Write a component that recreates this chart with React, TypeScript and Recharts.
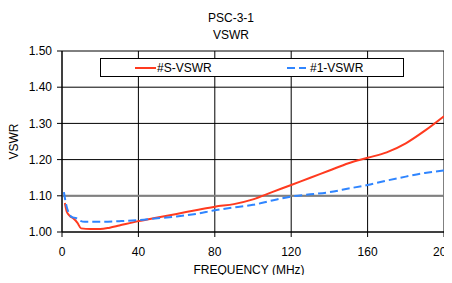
import React from 'react';
import {
  LineChart,
  Line,
  XAxis,
  YAxis,
  CartesianGrid,
  ReferenceLine,
} from 'recharts';

// #S-VSWR curve
const sFreq = [1.5, 2.5, 4, 6, 8, 10, 15, 20, 25, 30, 40, 50, 60, 70, 80, 90, 100, 110, 120, 130, 140, 150, 160, 170, 180, 190, 200];
const sVswr = [1.08, 1.056, 1.045, 1.037, 1.026, 1.01, 1.008, 1.008, 1.012, 1.018, 1.03, 1.04, 1.05, 1.06, 1.07, 1.077, 1.09, 1.11, 1.13, 1.15, 1.17, 1.19, 1.205, 1.22, 1.245, 1.28, 1.32];

// #1-VSWR curve
const bFreq = [1, 2, 3.5, 5, 7.5, 9.5, 12, 20, 30, 40, 50, 60, 70, 80, 90, 100, 110, 120, 130, 140, 150, 160, 170, 180, 190, 200];
const bVswr = [1.11, 1.08, 1.053, 1.042, 1.038, 1.031, 1.028, 1.028, 1.03, 1.033, 1.038, 1.043, 1.05, 1.06, 1.068, 1.075, 1.087, 1.098, 1.104, 1.11, 1.12, 1.13, 1.142, 1.153, 1.163, 1.17];

const xTicks = [0, 40, 80, 120, 160, 200];
const yTicks = [1.0, 1.1, 1.2, 1.3, 1.4, 1.5];

const sData = sFreq.map((f, i) => ({ f, v: sVswr[i] }));
const bData = bFreq.map((f, i) => ({ f, v: bVswr[i] }));

const RED = '#ff3a1f';
const BLUE = '#2f85ff';
const FONT = '"Liberation Sans", Arial, sans-serif';

// legend box drawn over the plot like the excel one
function LegendBox() {
  return (
    <div
      style={{
        position: 'absolute',
        left: 100,
        top: 58,
        width: 302,
        height: 17,
        border: '1px solid #000',
        background: '#fff',
        fontFamily: FONT,
        fontSize: 12,
        color: '#000',
        zIndex: 2,
      }}
    >
      <svg width={302} height={17} style={{ position: 'absolute', left: 0, top: 0 }}>
        <line x1={34} x2={55} y1={9} y2={9} stroke={RED} strokeWidth={2} />
        <line x1={186} x2={205} y1={9} y2={9} stroke={BLUE} strokeWidth={2} strokeDasharray="8 4" />
      </svg>
      <span style={{ position: 'absolute', left: 56, top: 1, lineHeight: '16px' }}>#S-VSWR</span>
      <span style={{ position: 'absolute', left: 209, top: 1, lineHeight: '16px' }}>#1-VSWR</span>
    </div>
  );
}

export default function App() {
  return (
    <div style={{ margin: -8, position: 'relative', width: 452, height: 283, background: '#fff', overflow: 'hidden' }}>
      <div
        style={{
          position: 'absolute',
          left: 0,
          top: 10,
          width: 462,
          textAlign: 'center',
          fontFamily: FONT,
          fontSize: 12,
          lineHeight: '16.5px',
          color: '#000',
          zIndex: 2,
        }}
      >
        <div>PSC-3-1</div>
        <div>VSWR</div>
      </div>
      <LegendBox />
      <LineChart width={452} height={283} margin={{ top: 51, right: 8, left: 0, bottom: 0 }}>
        <CartesianGrid stroke="#000" strokeWidth={1} />
        <XAxis
          dataKey="f"
          type="number"
          domain={[0, 200]}
          ticks={xTicks}
          allowDataOverflow
          height={51}
          tickSize={5}
          tickMargin={10}
          stroke="#000"
          tick={{ fill: '#000', fontSize: 12, fontFamily: FONT }}
          label={{
            value: 'FREQUENCY (MHz)',
            position: 'insideBottom',
            offset: 9,
            dx: -4,
            style: { fill: '#000', fontSize: 12, fontFamily: FONT },
          }}
        />
        <YAxis
          type="number"
          domain={[1, 1.5]}
          ticks={yTicks}
          allowDataOverflow
          width={62}
          tickSize={5}
          tickMargin={5}
          stroke="#000"
          tickFormatter={(v: number) => v.toFixed(2)}
          tick={{ fill: '#000', fontSize: 12, fontFamily: FONT }}
          label={{
            value: 'VSWR',
            angle: -90,
            position: 'insideLeft',
            offset: 0,
            dx: 14,
            style: { fill: '#000', fontSize: 12, fontFamily: FONT, textAnchor: 'middle' },
          }}
        />
        <ReferenceLine y={1.1} stroke="#808080" strokeWidth={2} />
        <Line
          data={sData}
          dataKey="v"
          name="#S-VSWR"
          type="monotone"
          stroke={RED}
          strokeWidth={2}
          dot={false}
          isAnimationActive={false}
        />
        <Line
          data={bData}
          dataKey="v"
          name="#1-VSWR"
          type="monotone"
          stroke={BLUE}
          strokeWidth={2}
          strokeDasharray="8 4"
          dot={false}
          isAnimationActive={false}
        />
      </LineChart>
    </div>
  );
}
